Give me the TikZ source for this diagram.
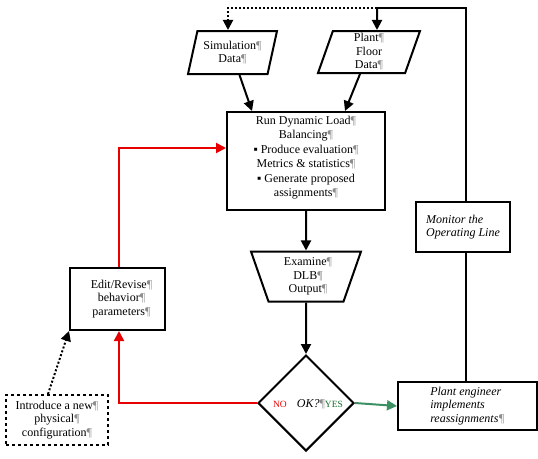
\documentclass[tikz,border=0pt]{standalone}
\usepackage{fontspec}
\setmainfont{Liberation Serif}
\usetikzlibrary{shapes.geometric,arrows.meta,calc}
\definecolor{pilgray}{RGB}{140,140,140}
\definecolor{okgreen}{RGB}{20,110,40}
\definecolor{arrowgreen}{RGB}{60,145,100}
\definecolor{flowred}{RGB}{230,0,0}
\newcommand\pilc{{\color{pilgray}¶}}
\begin{document}
\begin{tikzpicture}[x=1pt,y=-1pt,
  font=\fontsize{12}{13.5}\selectfont,
  line width=2pt,
  box/.style={draw, rectangle, inner sep=0pt, align=center},
  para/.style={draw, trapezium, trapezium left angle=68, trapezium right angle=112,
    trapezium stretches body, inner sep=0pt, align=center},
  arr/.style={-{Triangle[length=10pt,width=10pt]}},
  redline/.style={draw=flowred, color=flowred, arr},
  dotline/.style={dotted, line cap=butt},
]
\useasboundingbox (0,0) rectangle (538,458);

% nodes
\node[para, minimum width=89, minimum height=43] (sim) at (232.5,52.5)
  {Simulation\pilc\\ Data\pilc};
\node[para, minimum width=102, minimum height=42] (plant) at (369,52)
  {Plant\pilc\\ Floor\\ Data\pilc};
\node[box, minimum width=158, minimum height=98] (main) at (306,161)
  {Run Dynamic Load\pilc\\ Balancing\pilc\\[2pt]
   ▪ Produce evaluation\pilc\\ Metrics \& statistics\pilc\\[2pt]
   ▪ Generate proposed\\ assignments\pilc\\[-4pt]};
\node[draw, trapezium, trapezium left angle=115, trapezium right angle=115,
  trapezium stretches body, inner sep=0pt, align=center,
  minimum width=110, minimum height=50] (exam) at (306,276.5)
  {\hspace*{4pt}Examine\pilc\\ \hspace*{4pt}DLB\pilc\\ \hspace*{4pt}Output\pilc};
\node[draw, diamond, minimum width=96, minimum height=96, inner sep=0pt] (dia) at (306,403) {};
\node[inner sep=0pt] (oktext) at (308,404)
  {\textcolor{flowred}{\fontsize{9.5}{10}\selectfont NO}\hspace{10pt}\textit{OK?}\pilc\textcolor{okgreen}{\fontsize{9.5}{10}\selectfont YES}};
\node[box, minimum width=139, minimum height=48, align=left] (eng) at (467.5,406)
  {\itshape Plant engineer\\ \itshape implements\\ \itshape reassignments\pilc};
\node[box, minimum width=94, minimum height=50, align=left] (mon) at (463,227)
  {\itshape Monitor the\\ \itshape Operating Line};
\node[box, minimum width=95, minimum height=62] (edit) at (117.5,299)
  {\hspace*{8pt}Edit/Revise\pilc\\ \hspace*{8pt}behavior\pilc\\ \hspace*{8pt}parameters\pilc};
\node[box, dashed, dash pattern=on 3pt off 3pt, minimum width=102, minimum height=50] (intro) at (57,420)
  {Introduce a new\pilc\\ physical\pilc\\ configuration\pilc};

\coordinate (topjoin) at (377,8);

% connectors
\draw ([xshift=3pt]mon.north) |- (topjoin);
\draw[arr] (topjoin) -- ([xshift=8pt]plant.north);
\draw[dotline, arr] (topjoin) -| ([xshift=-4.5pt]sim.north);
\draw[arr] ([xshift=7pt]sim.south) -- ([xshift=-54pt]main.north);
\draw[arr] ([xshift=-9pt]plant.south) -- ([xshift=39pt]main.north);
\draw[arr] (main.south) -- (exam.north);
\draw[arr] (exam.south) -- (dia.north);
\draw[draw=arrowgreen, arr] (dia.east) -- (eng.west);
\draw ([xshift=-1.5pt]eng.north) -- ([xshift=-1.5pt]eng.north |- mon.south);
\draw[redline] (dia.west) -| ([xshift=1.5pt]edit.south);
\draw[redline] ([xshift=1.5pt]edit.north) |- ([yshift=13pt]main.west);
\draw[dotline, arr] ([xshift=-9pt]intro.north) -- (edit.south west);
\end{tikzpicture}
\end{document}
